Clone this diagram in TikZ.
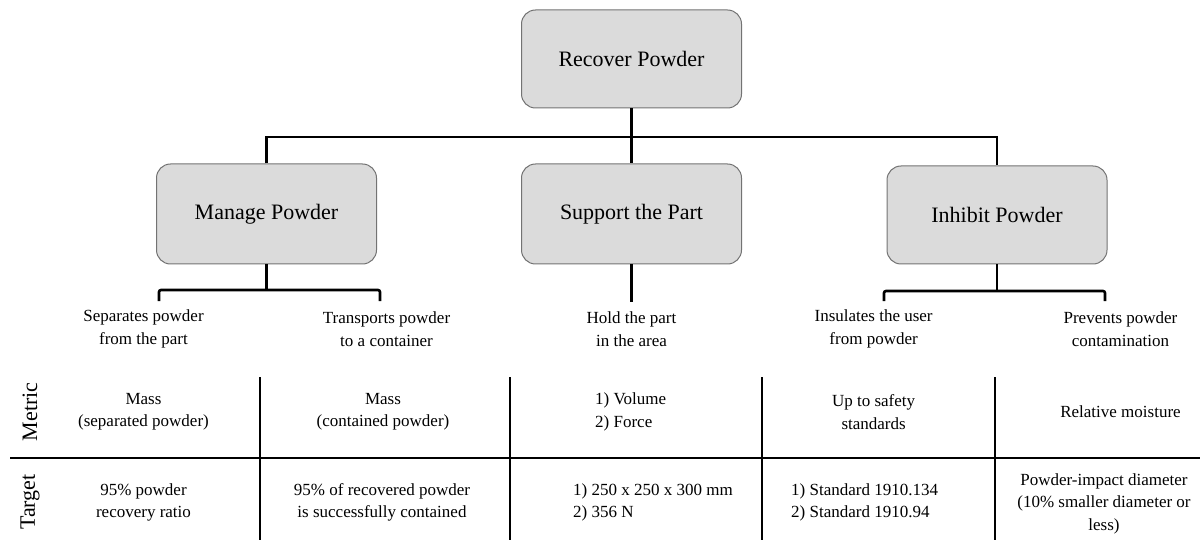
\documentclass[tikz,border=0pt]{standalone}
\usepackage{fontspec}
\setmainfont{Liberation Serif}
\begin{document}
\begin{tikzpicture}[x=1pt,y=-1pt,
  box/.style={draw=black!55, line width=1pt, fill=black!14, rounded corners=14pt, minimum width=220pt, inner sep=0pt, font=\fontsize{22}{26}\selectfont},
  conn/.style={line width=2.6pt, black},
  grid/.style={line width=2.8pt, black},
  txt/.style={align=center, inner sep=0pt, font=\fontsize{17}{22.5}\selectfont},
  ltxt/.style={align=left, anchor=west, inner sep=0pt, font=\fontsize{17}{22.5}\selectfont},
  rowlab/.style={rotate=90, inner sep=0pt, font=\fontsize{22}{26}\selectfont}]
\useasboundingbox (0,0) rectangle (1200,540);
% boxes
\node[box, minimum height=98pt] (top) at (631.5,59) {Recover Powder};
\node[box, minimum height=100pt] (manage) at (266.5,214) {Manage Powder};
\node[box, minimum height=100pt] (support) at (631.5,214) {Support the Part};
\node[box, minimum height=98pt] (inhibit) at (997,215) {Inhibit Powder};
% tree connectors
\coordinate (bus) at (631.5,137);
\draw[conn] (top.south) -- (support.north);
\draw[conn] (manage.north) |- (bus) -| (inhibit.north);
% brackets
\coordinate (mb) at (266.5,290);
\coordinate (m1) at (159,301);
\coordinate (m2) at (380,301);
\draw[conn] (manage.south) -- (mb);
\draw[conn, rounded corners=2pt] (m1) -- (m1 |- mb) -- (m2 |- mb) -- (m2);
\coordinate (sb) at (631.5,302);
\draw[conn] (support.south) -- (sb);
\coordinate (ib) at (997,291);
\coordinate (i1) at (884,301);
\coordinate (i2) at (1105,301);
\draw[conn] (inhibit.south) -- (ib);
\draw[conn, rounded corners=2pt] (i1) -- (i1 |- ib) -- (i2 |- ib) -- (i2);
% sub-functions
\node[txt] (f1) at (143.5,329) {Separates powder\\from the part};
\node[txt] (f2) at (386.5,329) {Transports powder\\to a container};
\node[txt] (f3) at (631.5,329) {Hold the part\\in the area};
\node[txt] (f4) at (873.6,329) {Insulates the user\\from powder};
\node[txt] (f5) at (1120.5,329) {Prevents powder\\contamination};
% table lines
\coordinate (v1t) at (260,377); \coordinate (v1b) at (260,540);
\coordinate (v2t) at (510,377); \coordinate (v2b) at (510,540);
\coordinate (v3t) at (762,377); \coordinate (v3b) at (762,540);
\coordinate (v4t) at (995,377); \coordinate (v4b) at (995,540);
\coordinate (hl) at (10,458); \coordinate (hr) at (1200,458);
\draw[grid] (v1t) -- (v1b);
\draw[grid] (v2t) -- (v2b);
\draw[grid] (v3t) -- (v3b);
\draw[grid] (v4t) -- (v4b);
\draw[grid] (hl) -- (hr);
% row labels
\node[rowlab] (lm) at (30,412) {Metric};
\node[rowlab] (lt) at (30,502) {Target};
% metric row
\node[txt] (m1t) at (143.5,411.5) {Mass\\(separated powder)};
\node[txt] (m2t) at (383,411.5) {Mass\\(contained powder)};
\node[ltxt] (m3t) at (595,412) {1) Volume\\2) Force};
\node[txt] (m4t) at (873.6,412) {Up to safety\\standards};
\node[txt] (m5t) at (1120.5,412) {Relative moisture};
% target row
\node[txt] (t1t) at (143.5,502.5) {95\% powder\\recovery ratio};
\node[txt] (t2t) at (382,502.5) {95\% of recovered powder\\is successfully contained};
\node[ltxt] (t3t) at (573,502.5) {1) 250 x 250 x 300 mm\\2) 356 N};
\node[ltxt] (t4t) at (791,502.5) {1) Standard 1910.134\\2) Standard 1910.94};
\node[txt] (t5t) at (1104,503.5) {Powder-impact diameter\\(10\% smaller diameter or\\less)};
\end{tikzpicture}
\end{document}
